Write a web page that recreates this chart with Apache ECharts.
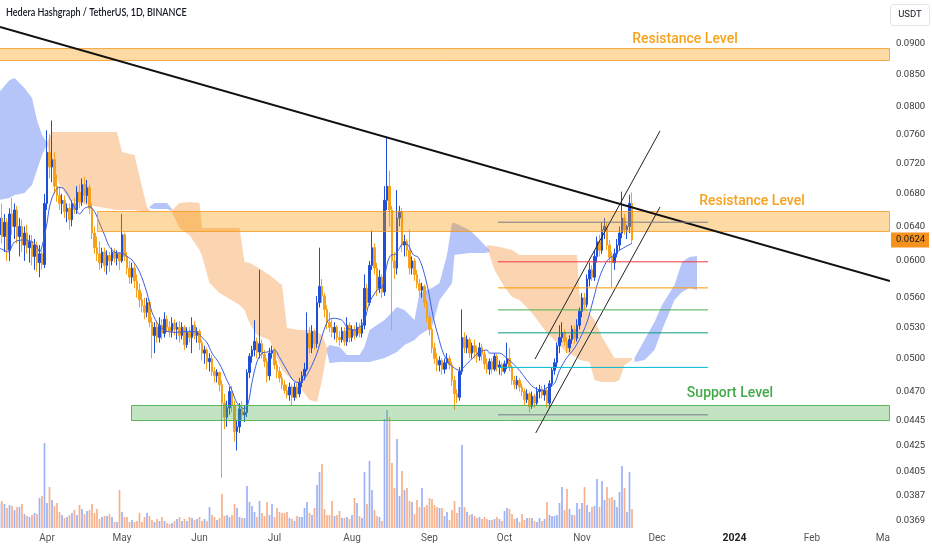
<!DOCTYPE html>
<html>
<head>
<meta charset="utf-8">
<script src="https://cdn.jsdelivr.net/npm/echarts@6/dist/echarts.min.js"></script>
<style>
html,body{margin:0;padding:0;background:#fff;}
#main{width:932px;height:550px;}
</style>
</head>
<body>
<div id="main"></div>
<script>
// ---- Data (day index 0 = 2023-03-13, daily candles) ----
// [open, high, low, close]
const candles = [
[.0630,.0660,.0605,.0650],[.0650,.0668,.0620,.0628],[.0628,.0655,.0610,.0645],[.0645,.0650,.0600,.0612],[.0612,.0662,.0600,.0655],
[.0655,.0675,.0630,.0640],[.0640,.0668,.0625,.0660],[.0660,.0665,.0620,.0628],[.0628,.0650,.0605,.0640],[.0640,.0648,.0610,.0618],
[.0618,.0640,.0600,.0632],[.0632,.0642,.0608,.0615],[.0615,.0630,.0598,.0622],[.0622,.0630,.0595,.0605],[.0605,.0625,.0590,.0618],
[.0618,.0622,.0588,.0598],[.0598,.0618,.0582,.0608],[.0608,.0612,.0590,.0596],[.0596,.0680,.0592,.0668],[.0668,.0766,.0660,.0735],
[.0735,.0760,.0700,.0715],[.0715,.0780,.0695,.0725],[.0725,.0735,.0680,.0690],[.0690,.0705,.0670,.0678],[.0678,.0690,.0660,.0668],
[.0668,.0680,.0655,.0672],[.0672,.0678,.0650,.0658],[.0658,.0668,.0645,.0662],[.0662,.0668,.0636,.0648],[.0648,.0672,.0640,.0668],
[.0668,.0675,.0655,.0660],[.0660,.0690,.0655,.0682],[.0682,.0692,.0662,.0670],[.0670,.0700,.0665,.0692],[.0692,.0702,.0670,.0678],
[.0678,.0698,.0668,.0688],[.0688,.0692,.0655,.0662],[.0662,.0668,.0625,.0632],[.0632,.0640,.0608,.0615],[.0615,.0628,.0600,.0608],
[.0608,.0622,.0590,.0598],[.0598,.0615,.0592,.0610],[.0610,.0615,.0588,.0595],[.0595,.0612,.0585,.0606],[.0606,.0610,.0588,.0600],
[.0600,.0615,.0595,.0610],[.0610,.0614,.0598,.0603],[.0603,.0612,.0595,.0608],[.0608,.0610,.0590,.0600],[.0600,.0655,.0598,.0630],
[.0630,.0632,.0600,.0605],[.0605,.0610,.0585,.0592],[.0592,.0600,.0575,.0582],[.0582,.0598,.0575,.0592],[.0592,.0596,.0570,.0578],
[.0578,.0585,.0560,.0568],[.0568,.0575,.0550,.0558],[.0558,.0565,.0545,.0552],[.0552,.0560,.0538,.0545],[.0545,.0560,.0540,.0555],
[.0555,.0558,.0530,.0535],[.0535,.0540,.0500,.0522],[.0522,.0535,.0505,.0530],[.0530,.0535,.0515,.0520],[.0520,.0540,.0515,.0532],
[.0532,.0538,.0518,.0524],[.0524,.0545,.0520,.0538],[.0538,.0542,.0525,.0530],[.0530,.0536,.0520,.0526],[.0526,.0540,.0520,.0534],
[.0534,.0538,.0522,.0528],[.0528,.0535,.0518,.0530],[.0530,.0536,.0515,.0522],[.0522,.0535,.0518,.0530],[.0530,.0532,.0508,.0513],
[.0513,.0530,.0510,.0525],[.0525,.0530,.0515,.0520],[.0520,.0540,.0505,.0532],[.0532,.0536,.0518,.0522],[.0522,.0530,.0515,.0526],
[.0526,.0528,.0508,.0515],[.0515,.0518,.0498,.0505],[.0505,.0512,.0495,.0508],[.0508,.0510,.0490,.0497],[.0497,.0505,.0488,.0500],
[.0500,.0503,.0484,.0488],[.0488,.0492,.0478,.0484],[.0484,.0490,.0478,.0487],[.0487,.0488,.0470,.0476],[.0476,.0480,.0400,.0460],
[.0460,.0468,.0438,.0448],[.0448,.0462,.0440,.0456],[.0456,.0474,.0450,.0470],[.0470,.0475,.0452,.0458],[.0458,.0462,.0428,.0436],
[.0436,.0445,.0421,.0440],[.0440,.0460,.0435,.0455],[.0455,.0462,.0446,.0450],[.0450,.0458,.0444,.0452],[.0452,.0490,.0448,.0487],
[.0487,.0505,.0482,.0502],[.0502,.0512,.0496,.0508],[.0508,.0537,.0502,.0516],[.0516,.0520,.0500,.0506],[.0506,.0590,.0500,.0514],
[.0514,.0518,.0500,.0504],[.0504,.0508,.0492,.0497],[.0497,.0500,.0478,.0484],[.0484,.0510,.0480,.0505],[.0505,.0512,.0500,.0507],
[.0507,.0510,.0490,.0494],[.0494,.0498,.0482,.0488],[.0488,.0492,.0478,.0482],[.0482,.0486,.0472,.0476],[.0476,.0480,.0468,.0471],
[.0471,.0476,.0464,.0467],[.0467,.0478,.0462,.0474],[.0474,.0476,.0458,.0465],[.0465,.0478,.0462,.0474],[.0474,.0477,.0464,.0468],
[.0468,.0482,.0465,.0478],[.0478,.0488,.0474,.0484],[.0484,.0496,.0480,.0490],[.0490,.0545,.0488,.0524],[.0524,.0530,.0505,.0510],
[.0510,.0532,.0505,.0526],[.0526,.0528,.0508,.0514],[.0514,.0562,.0510,.0555],[.0555,.0615,.0550,.0572],[.0572,.0580,.0555,.0562],
[.0562,.0565,.0540,.0548],[.0548,.0552,.0528,.0535],[.0535,.0545,.0525,.0530],[.0530,.0538,.0520,.0525],[.0525,.0535,.0518,.0530],
[.0530,.0532,.0515,.0520],[.0520,.0526,.0512,.0518],[.0518,.0530,.0515,.0526],[.0526,.0530,.0512,.0516],[.0516,.0540,.0512,.0532],
[.0532,.0535,.0515,.0520],[.0520,.0532,.0516,.0528],[.0528,.0532,.0518,.0522],[.0522,.0535,.0520,.0530],[.0530,.0534,.0520,.0524],
[.0524,.0538,.0520,.0532],[.0532,.0585,.0528,.0570],[.0570,.0575,.0548,.0555],[.0555,.0600,.0552,.0595],[.0595,.0635,.0590,.0615],
[.0615,.0620,.0585,.0592],[.0592,.0598,.0562,.0570],[.0570,.0590,.0565,.0582],[.0582,.0585,.0560,.0566],[.0566,.0690,.0562,.0672],
[.0672,.0757,.0660,.0690],[.0690,.0710,.0640,.0660],[.0660,.0665,.0527,.0600],[.0600,.0610,.0580,.0592],[.0592,.0685,.0585,.0650],
[.0650,.0665,.0640,.0658],[.0658,.0662,.0610,.0618],[.0618,.0630,.0605,.0622],[.0622,.0625,.0605,.0612],[.0612,.0636,.0585,.0592],
[.0592,.0605,.0585,.0600],[.0600,.0603,.0578,.0585],[.0585,.0590,.0570,.0575],[.0575,.0580,.0562,.0568],[.0568,.0576,.0560,.0572],
[.0572,.0574,.0550,.0555],[.0555,.0558,.0535,.0540],[.0540,.0545,.0522,.0528],[.0528,.0530,.0505,.0510],[.0510,.0515,.0495,.0500],
[.0500,.0505,.0488,.0494],[.0494,.0502,.0488,.0498],[.0498,.0500,.0485,.0490],[.0490,.0500,.0486,.0496],[.0496,.0505,.0490,.0500],
[.0500,.0503,.0490,.0494],[.0494,.0497,.0475,.0480],[.0480,.0484,.0454,.0468],[.0468,.0472,.0460,.0465],[.0465,.0492,.0462,.0488],
[.0488,.0548,.0485,.0520],[.0520,.0525,.0505,.0510],[.0510,.0522,.0505,.0518],[.0518,.0520,.0500,.0505],[.0505,.0515,.0500,.0512],
[.0512,.0518,.0500,.0506],[.0506,.0512,.0496,.0502],[.0502,.0515,.0498,.0510],[.0510,.0514,.0498,.0504],[.0504,.0508,.0490,.0495],
[.0495,.0500,.0486,.0490],[.0490,.0500,.0485,.0497],[.0497,.0500,.0486,.0490],[.0490,.0505,.0488,.0502],[.0502,.0504,.0488,.0492],
[.0492,.0498,.0485,.0494],[.0494,.0496,.0484,.0488],[.0488,.0498,.0486,.0495],[.0495,.0515,.0490,.0500],[.0500,.0510,.0488,.0492],
[.0492,.0494,.0476,.0480],[.0480,.0484,.0472,.0476],[.0476,.0484,.0472,.0480],[.0480,.0482,.0470,.0474],[.0474,.0477,.0466,.0470],
[.0470,.0473,.0458,.0463],[.0463,.0472,.0460,.0468],[.0468,.0470,.0452,.0457],[.0457,.0470,.0455,.0466],[.0466,.0468,.0456,.0460],
[.0460,.0474,.0458,.0470],[.0470,.0476,.0464,.0472],[.0472,.0475,.0464,.0467],[.0467,.0476,.0462,.0471],[.0471,.0473,.0456,.0460],
[.0460,.0480,.0456,.0477],[.0477,.0492,.0474,.0489],[.0489,.0500,.0485,.0496],[.0496,.0515,.0492,.0512],[.0512,.0532,.0505,.0520],
[.0520,.0535,.0515,.0525],[.0525,.0528,.0512,.0516],[.0516,.0520,.0505,.0510],[.0510,.0522,.0506,.0518],[.0518,.0532,.0514,.0528],
[.0528,.0532,.0514,.0519],[.0519,.0538,.0516,.0532],[.0532,.0550,.0528,.0546],[.0546,.0565,.0540,.0560],[.0560,.0565,.0548,.0553],
[.0553,.0585,.0550,.0580],[.0580,.0598,.0572,.0590],[.0590,.0595,.0578,.0582],[.0582,.0612,.0578,.0605],[.0605,.0628,.0598,.0622],
[.0622,.0630,.0605,.0612],[.0612,.0645,.0608,.0636],[.0636,.0650,.0625,.0640],[.0640,.0645,.0612,.0618],[.0618,.0624,.0598,.0604],
[.0604,.0610,.0571,.0598],[.0598,.0614,.0590,.0608],[.0608,.0625,.0604,.0618],[.0618,.0640,.0612,.0632],[.0632,.0683,.0626,.0650],
[.0650,.0655,.0630,.0636],[.0636,.0642,.0625,.0640],[.0640,.0679,.0632,.0668],[.0668,.0682,.0620,.0624]
];

// relative daily volume (same day order as candles)
const volumes = [
25,27,24,20,23,22,18,21,21,24, 14,12,11,13,15,14,30,32,85,25, 41,28,22,25,16,13,10,11,13,15,
18,13,23,19,14,17,18,24,15,19, 9,11,12,12,14,11,6,6,38,16, 11,11,6,8,6,7,15,6,11,15,
12,8,6,9,7,11,7,5,4,5, 7,9,11,7,9,7,11,10,8,9, 11,7,9,7,21,13,11,8,10,34,
12,13,11,13,24,20,11,10,10,42, 26,22,16,11,27,15,12,26,13,24, 11,20,16,15,15,16,10,9,7,12,
11,11,20,26,15,13,20,43,
56,64,19,13,13,27,12,13,17,10, 10,11,9,13,30,25,12,10,56,24, 67,38,18,12,11,7,109,118,111,65,
40,89,32,57,38,40,27,26,14,28, 21,40,21,23,30,29,23,21,20,20, 12,16,8,18,27,15,21,83,21,16,
13,14,12,10,11,9,11,9,8,8, 9,11,9,7,17,20,19,14,9,10, 6,14,8,10,10,10,7,6,10,7,
9,26,13,12,12,13,25,41,18,39, 19,13,13,25,19,25,41,23,16,21, 22,49,21,47,28,41,30,31,28,21,
36,62,40,16,56,19
];

// moving average (blue line): [dayIndex, price]
const maPoints = [
[0,.06147],[3.5,.06101],[6,.06216],[10,.0624],[13,.0622],[15,.0616],[16,.0610],[17.5,.0622],[19,.06441],[20,.06637],
[21.5,.06787],[23.5,.0688],[25,.0688],[27,.0681],[29,.0669],[31,.0658],[32,.0655],[34,.0662],[36,.0664],[38,.0658],
[40,.0644],[42,.0630],[44,.0616],[47,.0609],[49,.0609],[51,.0605],[53,.0601],[56,.0588],[59,.0565],[61,.0545],
[64,.0531],[67,.0526],[71,.0525],[75,.0526],[79,.0525],[81,.0520],[83,.0515],[85,.0505],[88,.0495],[91,.0480],
[93,.0471],[95,.0460],[98,.0455],[99.5,.0460],[101,.0478],[103,.0497],[105,.0505],[107,.0506],[110,.0508],[112,.0501],
[115,.0489],[117.5,.0480],[119.5,.0478],[121.5,.0480],[124,.0489],[127,.0505],[129.5,.0525],[131.5,.0537],[133.5,.0539],[137,.0537],
[139,.0530],[141.5,.0527],[144,.0530],[146,.0537],[148,.0555],[151,.0568],[153,.0571],[154,.0582],[155.5,.0601],[157,.0607],
[158,.0607],[159.5,.0612],[161.5,.0620],[163.5,.0618],[165.5,.0607],[167.5,.0604],[169.5,.0590],[171.5,.0568],[173.5,.0540],[175.5,.0521],
[177.5,.0505],[180,.0495],[182,.0491],[184,.0489],[187,.0495],[189.5,.0501],[192,.0506],[195,.0508],[196,.0505],[200,.0505],
[203,.0500],[205.5,.0495],[208,.0489],[211,.0480],[213.5,.0474],[217,.0471],[219.5,.0474],[222,.0477],[224,.0489],[227,.0501],
[229.5,.0508],[232,.0518],[235,.0535],[237.5,.0558],[240,.0582],[243,.0600],[245.5,.0606],[248,.0612],[251,.0617],[253,.0620]
];

// Ichimoku cloud outlines: [dayIndex, upper price, lower price]
const cloudBlue1 = [[0,.08228,.06724],[4,.08414,.06749],[6,.08446,.06787],[10,.08289,.06813],[13,.08136,.06915],[15,.07808,.07112],[17,.07592,.07314],[19,.0748,.0746]];
const cloudOrange1 = [[19,.0749,.0746],[21,.07635,.07179],[24,.07635,.06915],[28,.07635,.06724],[32,.07635,.06680],[40,.07635,.06636],[47,.07635,.06600],[49,.07355,.06600],[54,.07314,.06600],[57,.06889,.06575],[59,.06636,.06575],[60,.0660,.0659]];
const cloudBlue2 = [[60,.06640,.06620],[62,.06687,.06612],[67,.06687,.06612],[69,.06610,.06590]];
const cloudOrange2 = [[69,.0660,.06575],[72,.06687,.06382],[76,.06699,.06298],[80,.06687,.06124],[81,.06382,.06056],[84,.06382,.05758],[88,.06382,.05651],[96,.06382,.05526],[98,.05989,.05474],[100,.05978,.05343],[103,.05933,.05224],[108,.05845,.05176],[113,.05736,.04893],[115,.05293,.04848],[120,.05273,.04740],[124,.05273,.04627],[127,.05253,.04610],[129,.05224,.04803],[131,.0510,.0506]];
const cloudBlue3 = [[131,.0510,.0506],[132,.05128,.04958],[136,.05109,.04967],[139,.05032,.04967],[144,.05032,.04967],[146,.05109,.04967],[148,.05273,.04967],[154,.05373,.05004],[159,.05505,.05061],[162,.05474,.05128],[166,.05373,.05176],[168,.05651,.05224],[173,.05704,.05303],[176,.05758,.05577],[179,.06067,.05683],[181,.06441,.05758],[182,.06441,.06067],[188,.06358,.06090],[191,.06275,.06090],[194,.06181,.0609],[196,.06124,.06101]];
const cloudOrange3 = [[195,.06181,.06158],[198,.0617,.05900],[202,.06147,.05715],[205,.06124,.05609],[208,.06067,.05577],[213,.06067,.05443],[219,.06067,.05243],[227,.06067,.05051],[231,.06067,.05014],[232,.05630,.04986],[236,.05443,.04967],[238,.05373,.04803],[241,.05205,.04785],[246,.05004,.04785],[248,.05004,.04803],[250,.05004,.04939],[253,.05004,.04986]];
const cloudBlue4 = [[254,.05004,.04967],[258,.05176,.04986],[262,.05353,.05080],[265,.05526,.05273],[270,.05736,.05577],[273,.05989,.05662],[276,.06044,.05704],[279,.06056,.05683]];

// support / resistance zones: [startDay, top price, bottom price]
const zoneTop = [-1, .08933, .08735];
const zoneMid = [39, .06588, .06346];
const zoneSupport = [52.6, .04584, .04457];

// Fibonacci retracement levels (1 -> 0)
const fibLevels = [.0645, .0599, .05705, .05475, .05245, .04917, .0450];
const fibRange = [199.4, 283.4];

// trend / channel lines: [[day, price], [day, price]]
const trendLine = [[0.2, .09291], [356.2, .05779]];
const channelUpper = [[214.2, .04995], [264.2, .07649]];
const channelLower = [[214.5, .04350], [264.2, .06636]];

// axis ticks
const yTicks = [0.0900, 0.0850, 0.0800, 0.0760, 0.0720, 0.0680, 0.0640, 0.0600, 0.0560, 0.0530, 0.0500, 0.0470, 0.0445, 0.0425, 0.0405, 0.0387, 0.0369];
const monthTicks = [19, 49, 80, 110, 141, 172, 202, 233, 263, 294, 325, 354];
const monthLabels = ['Apr', 'May', 'Jun', 'Jul', 'Aug', 'Sep', 'Oct', 'Nov', 'Dec', '2024', 'Feb', 'Mar'];
const xRange = [0.2, 356.2];
const yRange = [0.03642, 0.09771];
const volMax = 130;

// ---- Chart ----
const L = Math.log;
const UP = '#1f4fd6', DOWN = '#f5a11c';
const VUP = '#9db2f4', VDOWN = '#f6b18c';
const isUp = r => r[3] >= r[0];

const clouds = [
  {pts: cloudBlue1, fill: 'rgba(70,110,240,0.40)'},
  {pts: cloudOrange1, fill: 'rgba(245,150,60,0.40)'},
  {pts: cloudBlue2, fill: 'rgba(70,110,240,0.40)'},
  {pts: cloudOrange2, fill: 'rgba(245,150,60,0.40)'},
  {pts: cloudBlue3, fill: 'rgba(70,110,240,0.40)'},
  {pts: cloudOrange3, fill: 'rgba(245,150,60,0.40)'},
  {pts: cloudBlue4, fill: 'rgba(70,110,240,0.40)'}
];
const zones = [
  {z: zoneTop, fill: 'rgba(250,150,0,0.36)', stroke: 'rgba(245,150,20,0.75)'},
  {z: zoneMid, fill: 'rgba(250,150,0,0.36)', stroke: 'rgba(245,150,20,0.75)'},
  {z: zoneSupport, fill: 'rgba(76,175,80,0.34)', stroke: 'rgba(76,175,80,0.9)'}
];
const fibColors = ['#787b86', '#f23645', '#ff9800', '#4caf50', '#089981', '#00bcd4', '#787b86'];
const lines = [
  {p: trendLine, color: '#111', w: 2},
  {p: channelUpper, color: '#222', w: 1},
  {p: channelLower, color: '#222', w: 1}
].concat(fibLevels.map((v, k) => ({p: [[fibRange[0], v], [fibRange[1], v]], color: fibColors[k], w: 1})));
const labels = [
  {t: 'Resistance Level', at: [274.2, .09068], color: '#f7a21c'},
  {t: 'Resistance Level', at: [301, .06699], color: '#f7a21c'},
  {t: 'Support Level', at: [292.2, .04679], color: '#43a948'}
];

const chart = echarts.init(document.getElementById('main'), null, {renderer: 'canvas'});
const FONT = 'Roboto, "Liberation Sans", sans-serif';

const option = {
  animation: false,
  backgroundColor: '#fff',
  grid: [
    {left: 0, right: 42, top: 0, bottom: 22},
    {left: 0, right: 42, bottom: 22, height: 130}
  ],
  xAxis: [
    {type: 'value', gridIndex: 0, min: xRange[0], max: xRange[1],
     axisLine: {show: false}, axisTick: {show: false}, splitLine: {show: false},
     axisLabel: {customValues: monthTicks, margin: 5, fontSize: 10, color: '#555', fontFamily: FONT,
       formatter: v => { const k = monthTicks.indexOf(v); const s = monthLabels[k]; return s === '2024' ? '{b|2024}' : s; },
       rich: {b: {fontWeight: 'bold', fontSize: 10.5, color: '#222', fontFamily: FONT}}}},
    {type: 'value', gridIndex: 1, min: xRange[0], max: xRange[1], show: false}
  ],
  yAxis: [
    {type: 'value', gridIndex: 0, position: 'right', min: L(yRange[0]), max: L(yRange[1]),
     axisLine: {show: false}, axisTick: {show: false}, splitLine: {show: false},
     axisLabel: {customValues: yTicks.map(L), margin: 6, fontSize: 9.5, color: '#3a3a3a', fontFamily: FONT,
       formatter: v => Math.exp(v).toFixed(4)}},
    {type: 'value', gridIndex: 1, min: 0, max: volMax, show: false}
  ],
  series: [
    {type: 'custom', name: 'cloud', xAxisIndex: 0, yAxisIndex: 0, z: 1, clip: true, silent: true,
     data: clouds.map(c => [c.pts[0][0], L(c.pts[0][1])]),
     renderItem: (params, api) => {
       const c = clouds[params.dataIndex];
       const pts = c.pts.map(p => api.coord([p[0], L(p[1])]));
       for (let k = c.pts.length - 1; k >= 0; k--) pts.push(api.coord([c.pts[k][0], L(c.pts[k][2])]));
       return {type: 'polygon', shape: {points: pts}, style: {fill: c.fill}};
     }},
    {type: 'bar', name: 'volume', xAxisIndex: 1, yAxisIndex: 1, barWidth: 1.7, z: 2,
     data: volumes.map((v, i) => ({value: [i, v], itemStyle: {color: isUp(candles[i]) ? VUP : VDOWN}}))},
    {type: 'candlestick', name: 'HBARUSDT', xAxisIndex: 0, yAxisIndex: 0, barWidth: 1.8, z: 3,
     itemStyle: {color: UP, color0: DOWN, borderColor: UP, borderColor0: DOWN, borderWidth: 1},
     data: candles.map((r, i) => [i, L(r[0]), L(r[3]), L(r[2]), L(r[1])])},
    {type: 'line', name: 'MA', xAxisIndex: 0, yAxisIndex: 0, z: 4, symbol: 'none', smooth: 0.3,
     lineStyle: {color: '#3b5fe2', width: 1},
     data: maPoints.map(p => [p[0], L(p[1])])},
    {type: 'custom', name: 'zones', xAxisIndex: 0, yAxisIndex: 0, z: 5, clip: true, silent: true,
     data: zones.map(z => [z.z[0], L(z.z[1])]),
     renderItem: (params, api) => {
       const zz = zones[params.dataIndex];
       const a = api.coord([zz.z[0], L(zz.z[1])]);
       const b = api.coord([xRange[1], L(zz.z[2])]);
       return {type: 'rect', shape: {x: a[0] + 0.5, y: Math.round(a[1]) + 0.5, width: b[0] - a[0] - 1, height: Math.round(b[1] - a[1])},
               style: {fill: zz.fill, stroke: zz.stroke, lineWidth: 1}};
     }},
    {type: 'custom', name: 'drawings', xAxisIndex: 0, yAxisIndex: 0, z: 6, clip: true, silent: true,
     data: lines.map(l => [l.p[0][0], L(l.p[0][1])]),
     renderItem: (params, api) => {
       const l = lines[params.dataIndex];
       const a = api.coord([l.p[0][0], L(l.p[0][1])]);
       const b = api.coord([l.p[1][0], L(l.p[1][1])]);
       return {type: 'line', shape: {x1: a[0], y1: a[1], x2: b[0], y2: b[1]}, style: {stroke: l.color, lineWidth: l.w}};
     }},
    {type: 'custom', name: 'labels', xAxisIndex: 0, yAxisIndex: 0, z: 7, silent: true,
     data: labels.map(l => [l.at[0], L(l.at[1])]),
     renderItem: (params, api) => {
       const l = labels[params.dataIndex];
       const p = api.coord([l.at[0], L(l.at[1])]);
       return {type: 'text', x: p[0], y: p[1],
               style: {text: l.t, fill: l.color, fontSize: 14, fontWeight: 500, fontFamily: FONT, align: 'center', verticalAlign: 'middle'}};
     }}
  ]
};
chart.setOption(option);

const last = candles[candles.length - 1];
const tagY = chart.convertToPixel({yAxisIndex: 0}, L(last[3]));
chart.setOption({
  graphic: [
    {type: 'rect', z: 100, silent: true, shape: {x: 890, y: 528, width: 42, height: 22}, style: {fill: '#fff'}},
    {type: 'text', z: 100, x: 6, y: 13, scaleX: 0.86, style: {text: 'Hedera Hashgraph / TetherUS, 1D, BINANCE', fontSize: 10.5, fontWeight: 600, fill: '#131722', fontFamily: 'Lato, Roboto, sans-serif', verticalAlign: 'middle'}},
    {type: 'rect', z: 100, shape: {x: 890.5, y: 4.5, width: 39, height: 21, r: 3}, style: {fill: '#fff', stroke: '#e0e3eb', lineWidth: 1}},
    {type: 'text', z: 101, x: 910, y: 15, style: {text: 'USDT', fontSize: 9.5, fill: '#131722', fontFamily: FONT, align: 'center', verticalAlign: 'middle'}},
    {type: 'rect', z: 100, shape: {x: 891, y: tagY - 7.5, width: 38, height: 15}, style: {fill: '#f5921e'}},
    {type: 'text', z: 101, x: 896, y: tagY, style: {text: last[3].toFixed(4), fontSize: 9.5, fill: '#1a1a1a', fontFamily: FONT, verticalAlign: 'middle'}}
  ]
});
</script>
</body>
</html>
